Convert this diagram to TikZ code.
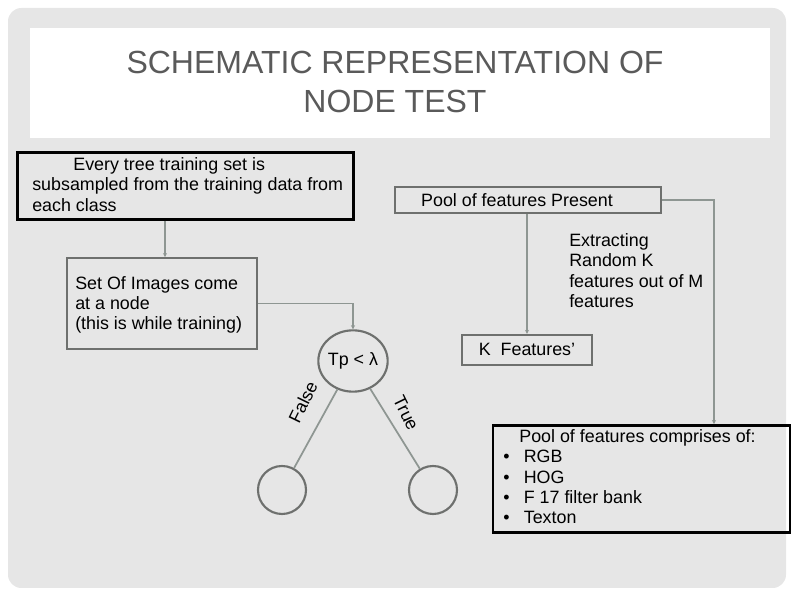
\documentclass[tikz,border=0pt]{standalone}
\usepackage{fontspec}
\setmainfont{Liberation Sans}
\usetikzlibrary{arrows.meta,shapes.geometric}
\definecolor{bg}{HTML}{E6E6E6}
\definecolor{ln}{HTML}{8E9692}
\definecolor{bd}{HTML}{6E706E}
\definecolor{tt}{HTML}{5A5A5A}
\tikzset{
 blackbox/.style={draw=black,line width=2.2pt,inner sep=0pt},
 graybox/.style={draw=bd,line width=1.6pt,inner sep=0pt},
 conn/.style={draw=ln,line width=1.3pt,-{Stealth[length=3pt,width=3pt]}},
 txt/.style={font=\fontsize{13.4}{15.3}\selectfont,align=left,inner sep=0pt},
 leaf/.style={draw=bd,line width=1.6pt,circle,minimum size=36pt,inner sep=0pt}
}
\begin{document}
\begin{tikzpicture}[x=0.75pt,y=-0.75pt]
\useasboundingbox (0,0) rectangle (794,595);
\fill[bg,rounded corners=10pt] (8,8) rectangle (786,588);
\fill[white] (30,28) rectangle (770,138);
\node[font=\fontsize{24}{29}\selectfont,text=tt,align=center] (title) at (395,82) {SCHEMATIC REPRESENTATION OF\\NODE TEST};
% boxes
\node[blackbox,minimum width=252pt,minimum height=50pt] (b1) at (185.5,186) {};
\node[txt,anchor=north west] (b1t) at (32,157) {\hspace{2.3em}Every tree training set is\\subsampled from the training data from\\each class};
\node[graybox,minimum width=199.5pt,minimum height=20pt] (pp) at (528,200) {};
\node[txt] (ppt) at (517,200) {Pool of features Present};
\node[graybox,minimum width=142.5pt,minimum height=68pt] (si) at (162,303.5) {};
\node[txt,anchor=north west] (sit) at (75,276) {Set Of Images come\\at a node\\(this is while training)};
\node[draw=bd,line width=1.6pt,ellipse,minimum width=52pt,minimum height=46pt,inner sep=0pt] (tp) at (353,361) {};
\node[txt] (tpt) at (353,361) {Tp < λ};
\node[graybox,minimum width=97.5pt,minimum height=22.5pt] (kf) at (527,350) {};
\node[txt] (kft) at (527,349) {K\ \ Features'};
\node[txt,anchor=north west] (ex) at (569,233) {Extracting\\Random K\\features out of M\\features};
\node[leaf] (l) at (282,490) {};
\node[leaf] (r) at (433,490) {};
\node[blackbox,minimum width=222.75pt,minimum height=80.25pt] (pc) at (641.5,479) {};
\node[txt,anchor=north west,text=black] (pct) at (503,429) {\hspace{0.9em}Pool of features comprises of:\\ \textbullet\hspace{0.8em}RGB\\ \textbullet\hspace{0.8em}HOG\\ \textbullet\hspace{0.8em}F 17 filter bank\\ \textbullet\hspace{0.8em}Texton};
% connectors
\draw[conn] (b1.south -| 165,0) -- (si.north -| 165,0);
\draw[conn] (si.east) -| (tp.north);
\draw[conn] (pp.south -| kf.north) -- (kf.north);
\draw[conn] (pp.east) -| (pc.north -| 714,0);
\draw[draw=ln,line width=1.3pt] (tp) -- (l);
\draw[draw=ln,line width=1.3pt] (tp) -- (r);
\node[txt,rotate=64] (fl) at (303,402) {False};
\node[txt,rotate=-64] (tr) at (406,413) {True};
\end{tikzpicture}
\end{document}
